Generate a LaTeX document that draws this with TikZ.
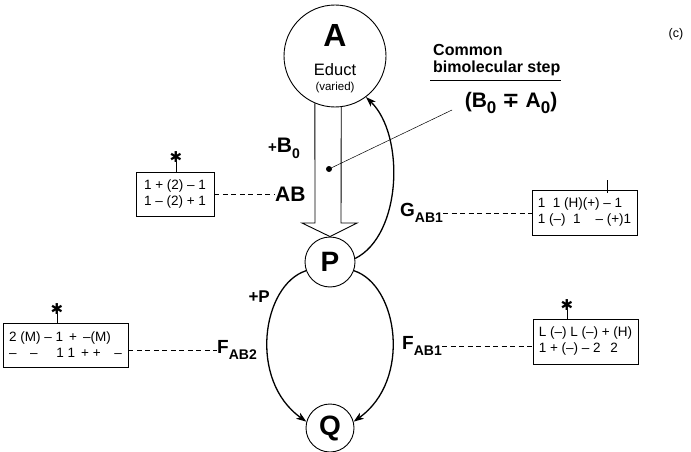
\documentclass[tikz,border=0pt]{standalone}
\usepackage{fontspec}
\setmainfont{Liberation Sans}
\newfontfamily\symfont{DejaVu Sans}
\usetikzlibrary{arrows.meta,calc}
\newcommand\lsub[1]{\raisebox{-0.3em}{\fontsize{14}{14}\selectfont #1}}
\newcommand\osub[1]{\raisebox{-0.25em}{\fontsize{17}{17}\selectfont #1}}
\begin{document}
\begin{tikzpicture}[x=1pt,y=-1pt,
  st/.style={circle,draw,line width=0.9pt,inner sep=0pt},
  lab/.style={font=\bfseries\fontsize{19}{19}\selectfont,inner sep=0pt},
  bx/.style={draw,line width=0.8pt,inner sep=0pt,font=\fontsize{13.5}{16}\selectfont,align=left},
  dsh/.style={dash pattern=on 5pt off 3.5pt,line width=0.7pt},
  curve/.style={line width=1.3pt,-{Stealth[length=10pt,width=7pt,inset=2.5pt]}},
  tick/.style={line width=0.9pt},
  starn/.style={font=\symfont\bfseries\fontsize{15}{15}\selectfont,inner sep=0pt}]
\useasboundingbox (0,0) rectangle (691,452);

% states
\node[st,minimum size=102pt] (A) at (335,56) {};
\node[font=\bfseries\fontsize{32}{32}\selectfont] (Atxt) at (335,35) {A};
\node[font=\fontsize{16.5}{16.5}\selectfont] (Aed) at (335,70) {Educt};
\node[font=\fontsize{11.5}{11.5}\selectfont] (Avar) at (335,88) {(varied)};
\node[st,minimum size=50pt,font=\bfseries\fontsize{28}{28}\selectfont] (P) at (330,262) {P};
\node[st,minimum size=48pt,font=\bfseries\fontsize{28}{28}\selectfont] (Q) at (330,428) {Q};

% hollow arrow A -> P
\draw[line width=0.9pt] (A.-113) -- (315,223) -- (302,223) -- (P.north) -- (357,223) -- (341,223) -- (A.-83);
\node[circle,fill,inner sep=0pt,minimum size=6pt] (dot) at (329,169) {};
\coordinate (lead) at (452,110);
\draw[line width=0.5pt] (dot.center) -- (lead);

% common step label
\node[font=\bfseries\fontsize{16}{16}\selectfont,anchor=base west,inner sep=0pt] (com) at (433,56) {Common};
\node[font=\bfseries\fontsize{16}{16}\selectfont,anchor=base west,inner sep=0pt] (bim) at (433,73) {bimolecular step};
\draw[line width=0.8pt] (430,80) -- (561,80);
\node[font=\bfseries\fontsize{21}{21}\selectfont] (ba) at (511,103) {(B\osub{0} {\symfont\bfseries ∓} A\osub{0})};

\node[font=\fontsize{12.5}{12.5}\selectfont] (c) at (676,34) {(c)};

% curved arrows
\draw[curve] (P.8) .. controls (402,235) and (405,135) .. (A.-53);
\draw[curve] (P.200) .. controls (262,285) and (248,380) .. (Q.165);
\draw[curve] (P.-20) .. controls (398,285) and (412,380) .. (Q.15);

% labels
\node[lab,font=\bfseries\fontsize{21}{21}\selectfont,anchor=west] (B0) at (268,148) {{\fontsize{15}{15}\selectfont +}B\lsub{0}};
\node[lab,font=\bfseries\fontsize{21}{21}\selectfont,anchor=west] (AB) at (275,194) {AB};
\node[lab,anchor=west] (G) at (400,213) {G\lsub{AB1}};
\node[lab,font=\bfseries\fontsize{17}{17}\selectfont,anchor=east] (plusP) at (270,297) {+P};
\node[lab,anchor=east] (F2) at (257,350) {F\lsub{AB2}};
\node[lab,anchor=west] (F1) at (402,346) {F\lsub{AB1}};

% boxes
\node[bx,minimum width=78pt,minimum height=44pt] (bAB) at (175,194) {1 + (2) – 1\\1 – (2) + 1};
\node[bx,minimum width=105pt,minimum height=45pt] (bG) at (584.5,212.5) {1\; 1 (H)(+) – 1\\1 (–)\; 1 \;\; – (+)1};
\node[bx,minimum width=125pt,minimum height=44pt] (bF2) at (65.5,345) {2 (M) – 1\, +\, –(M)\\–\;\;\, –\;\;\;\; 1 1\, + +\;\;\, –};
\node[bx,minimum width=105pt,minimum height=45pt] (bF1) at (585.5,341.5) {L (–) L (–) + (H)\\1 + (–) – 2\;\, 2};

% dashed connectors
\draw[dsh] (bAB.east |- AB.west) -- (AB.west);
\draw[dsh] (G.east) -- (bG.west |- G.east);
\draw[dsh] (bF2.east |- F2.west) -- (F2.west);
\draw[dsh] (F1.east) -- (bF1.west |- F1.east);

% ticks and stars
\draw[tick] ($(bAB.north)+(1,0)$) -- ++(0,-10) coordinate (tAB);
\node[starn] (sAB) at ($(tAB)+(0,-5)$) {✱};
\draw[tick] ($(bG.north)+(22.5,3)$) -- ++(0,-13) coordinate (tG);
\draw[tick] ($(bF2.north)+(-8.5,0)$) -- ++(0,-9) coordinate (tF2);
\node[starn] (sF2) at ($(tF2)+(0,-5)$) {✱};
\draw[tick] ($(bF1.north)+(-18.5,0)$) -- ++(0,-9) coordinate (tF1);
\node[starn] (sF1) at ($(tF1)+(0,-5)$) {✱};
\end{tikzpicture}
\end{document}
